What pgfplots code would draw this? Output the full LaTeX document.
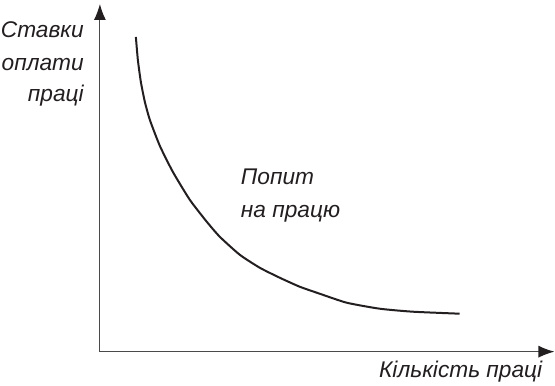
\documentclass[border=0pt]{standalone}
\usepackage{fontspec}
\setmainfont{Liberation Sans}
\usepackage{pgfplots}
\pgfplotsset{compat=1.18}
\usetikzlibrary{arrows.meta}
\definecolor{ink}{HTML}{231F20}
\definecolor{axisgray}{HTML}{4A4A4A}

% demand curve (x = pixel column, y = 386 - pixel row)
\pgfplotstableread{
x y
136 349
138 326
141 304
145 284
150 266
160 240
173 214
190 186
207 164
220 149
240 131
260 118
280 108
300 99
320 92
347 83
380 77
413 74
460 72
}\demand

\tikzset{lbl/.style={font=\fontsize{22.8}{26}\selectfont\itshape, text=ink, inner sep=0pt}}

\begin{document}
\begin{tikzpicture}
\begin{axis}[
    scale only axis,
    width=455bp, height=348bp,
    xmin=100, xmax=555, ymin=34, ymax=382,
    axis lines=left,
    axis line style={axisgray, line width=1.1bp, -{Latex[length=16bp,width=12bp,color=ink]}},
    xtick=\empty, ytick=\empty,
    clip=false,
]
\addplot[ink, line width=2bp, smooth, tension=0.35] table {\demand};
\node[lbl, anchor=base east] at (axis cs:84,348) {Ставки};
\node[lbl, anchor=base east] at (axis cs:84,315) {оплати};
\node[lbl, anchor=base east] at (axis cs:84,284) {праці};
\node[lbl, anchor=base west] at (axis cs:241,201) {Попит};
\node[lbl, anchor=base west] at (axis cs:241,168) {на працю};
\node[lbl, anchor=base east] at (axis cs:543,8) {Кількість праці};
\path (axis cs:0,0) rectangle (axis cs:555,386);
\end{axis}
\end{tikzpicture}
\end{document}
